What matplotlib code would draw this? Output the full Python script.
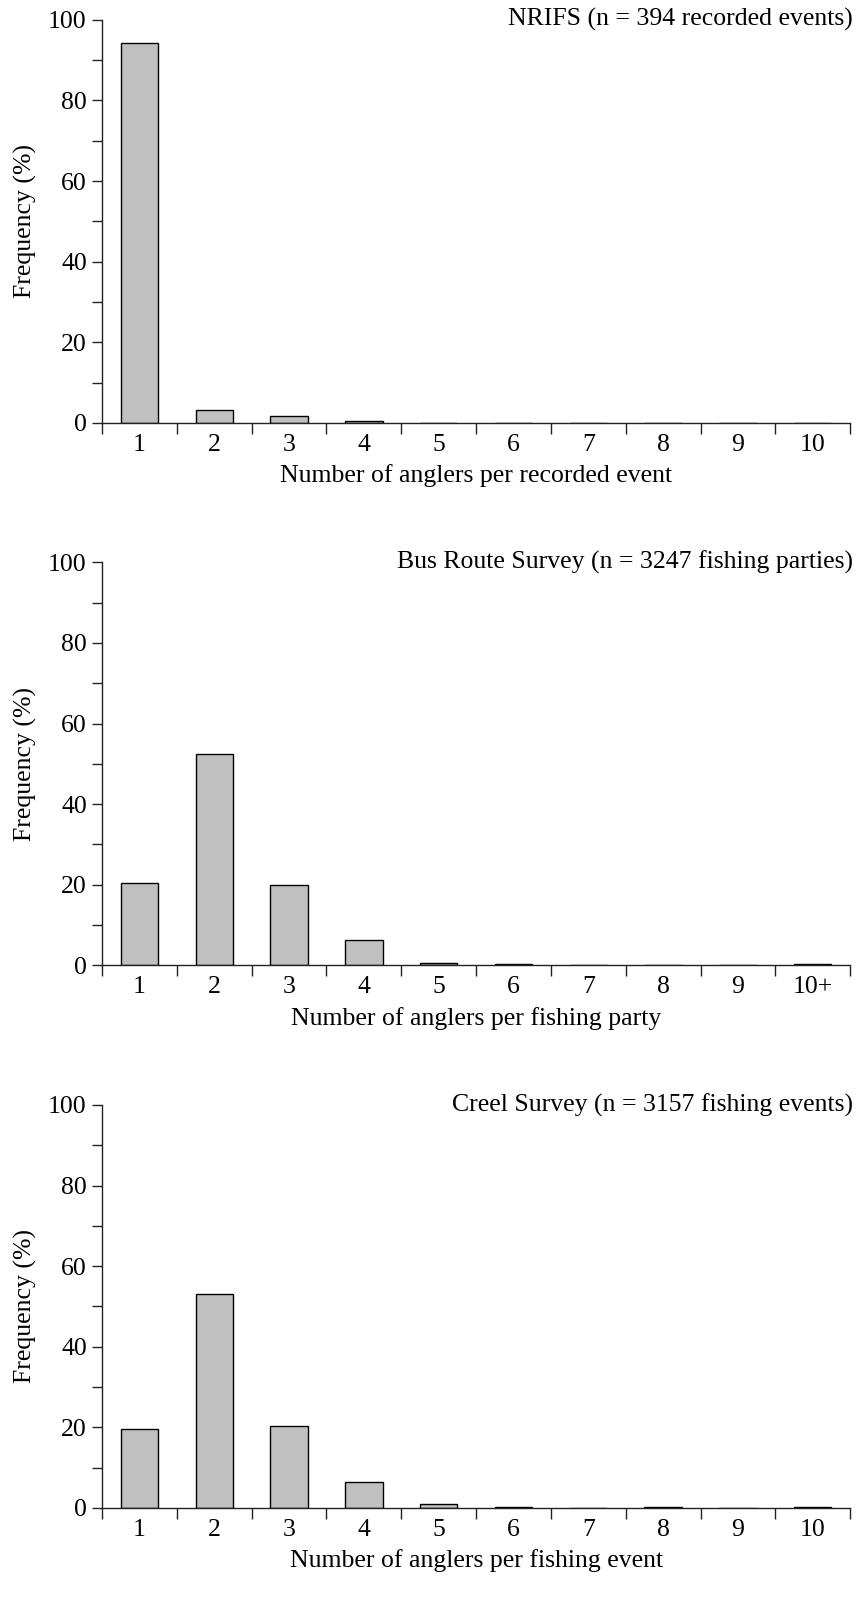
import numpy as np
import matplotlib
matplotlib.use("Agg")
from matplotlib import pyplot as plt
from matplotlib.ticker import FixedLocator, MultipleLocator

plt.rcParams['font.family'] = ['Liberation Serif', 'DejaVu Serif']

# angler-count categories
cats_event = ['1', '2', '3', '4', '5', '6', '7', '8', '9', '10']
cats_party = ['1', '2', '3', '4', '5', '6', '7', '8', '9', '10+']

# frequency (%) per category
nrifs = [94.3, 3.3, 1.8, 0.6, 0, 0, 0, 0, 0, 0]
bus_route = [20.4, 52.4, 20.0, 6.2, 0.7, 0.3, 0.15, 0.15, 0, 0.3]
creel = [19.6, 53.0, 20.3, 6.4, 0.9, 0.2, 0, 0.15, 0, 0.15]

titles = ['NRIFS (n = 394 recorded events)',
          'Bus Route Survey (n = 3247 fishing parties)',
          'Creel Survey (n = 3157 fishing events)']
xlabels = ['Number of anglers per recorded event',
           'Number of anglers per fishing party',
           'Number of anglers per fishing event']

panels = [(nrifs, cats_event), (bus_route, cats_party), (creel, cats_event)]
bottoms = [0.7360, 0.3974, 0.0587]

fig = plt.figure(figsize=(8.56, 16.02), dpi=100)
fs = 18.5

for (vals, cats), title, xlab, b in zip(panels, titles, xlabels, bottoms):
    ax = fig.add_axes([0.1192, b, 0.874, 0.2516])
    x = np.arange(len(cats))
    ax.bar(x, vals, width=0.5, color='#c0c0c0', edgecolor='black', linewidth=1.0)
    ax.set_xlim(-0.5, len(cats) - 0.5)
    ax.set_ylim(0, 100)

    for s in ['top', 'right']:
        ax.spines[s].set_visible(False)
    for s in ['left', 'bottom']:
        ax.spines[s].set_linewidth(1.0)
        ax.spines[s].set_color('#222222')

    # boundary ticks on x, labels at category centres
    ax.xaxis.set_major_locator(FixedLocator(np.arange(-0.5, len(cats), 1.0)))
    ax.xaxis.set_minor_locator(FixedLocator(x))
    ax.set_xticklabels([], minor=False)
    ax.set_xticklabels(cats, minor=True)
    ax.tick_params(axis='x', which='major', direction='out', length=8, width=1.0, color='#222222')
    ax.tick_params(axis='x', which='minor', length=0, pad=8, labelsize=fs)

    ax.yaxis.set_major_locator(MultipleLocator(20))
    ax.yaxis.set_minor_locator(MultipleLocator(10))
    ax.tick_params(axis='y', which='major', direction='out', length=7, width=1.0,
                   color='#222222', labelsize=fs, pad=4)
    ax.tick_params(axis='y', which='minor', direction='out', length=7, width=1.0, color='#222222')

    ax.set_ylabel('Frequency (%)', fontsize=fs, labelpad=8)
    ax.set_xlabel(xlab, fontsize=fs, labelpad=6)
    ax.text(1.004, 1.0, title, transform=ax.transAxes, ha='right', va='center', fontsize=fs)

fig.savefig('out.png', dpi=100)
